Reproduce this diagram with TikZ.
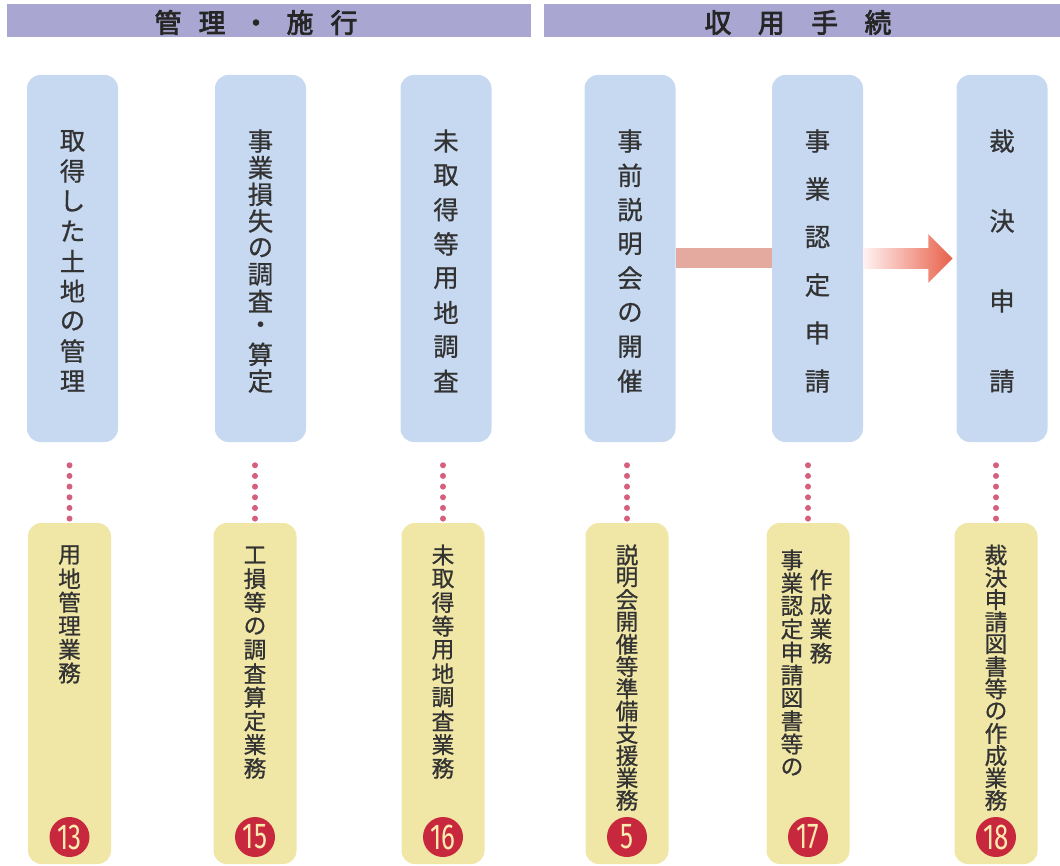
\documentclass[tikz,border=0pt]{standalone}
\usepackage{fontspec}
\newfontfamily\jpfont[FakeBold=0.8]{Noto Sans CJK JP}
\newfontfamily\jpheavy[FakeBold=3]{Noto Sans CJK JP}
\newfontfamily\numfont[FakeStretch=0.72]{Fira Sans}
\usetikzlibrary{shapes.arrows}
\definecolor{barcol}{HTML}{A9A7D1}
\definecolor{bluecol}{HTML}{C7D9F1}
\definecolor{yellowcol}{HTML}{F0E7A6}
\definecolor{numred}{HTML}{C8283E}
\definecolor{numtext}{HTML}{FBEBB0}
\definecolor{dotcol}{HTML}{D5607E}
\definecolor{bandcol}{HTML}{E4AAA0}
\definecolor{textgray}{HTML}{333333}
% one character per line, going down
\newcommand{\vcol}[6]{\foreach \ch [count=\k from 0] in {#6} {\node[#1] (#2\k) at (#3,{#4+\k*#5}) {\ch};}}

\begin{document}
\begin{tikzpicture}[x=0.75pt,y=-0.75pt,
    head_bar/.style={fill=barcol, minimum height=24.75pt, inner sep=0},
    head_text/.style={font=\jpheavy\fontsize{20pt}{20pt}\selectfont, text=black!85, inner sep=0},
    blue_box/.style={fill=bluecol, rounded corners=10pt, minimum width=68.25pt, minimum height=275.25pt, inner sep=0},
    yellow_box/.style={fill=yellowcol, rounded corners=10pt, minimum width=62.25pt, minimum height=255.75pt, inner sep=0},
    blue_text/.style={font=\jpfont\fontsize{19pt}{19pt}\selectfont, text=textgray, inner sep=0},
    yellow_text/.style={font=\jpfont\fontsize{17pt}{17pt}\selectfont, text=textgray, inner sep=0},
    num_dot/.style={circle, fill=numred, text=numtext, minimum size=30pt, inner sep=0, font=\numfont\fontsize{27pt}{27pt}\selectfont},
    dot_line/.style={draw=dotcol, line width=4.5pt, line cap=round, dash pattern=on 0pt off 8pt, shorten <=17.25pt, shorten >=3pt},
    band/.style={draw=bandcol, line width=15pt},
    fat_arrow/.style={single arrow, inner xsep=0, inner ysep=7.5pt, single arrow head extend=10.5pt, minimum height=66.75pt, left color=red!5, right color=red!55!brown!80, anchor=tail}]
    \useasboundingbox (0,0) rectangle (1060,866);

    \node[head_bar, minimum width=393pt] (bar1) at (269,20.5) {};
    \node[head_bar, minimum width=387pt] (bar2) at (802,20.5) {};
    \node[head_text] (bar1t) at (256,22.5) {管\hspace{13pt}理\hspace{13pt}・\hspace{13pt}施\hspace{13pt}行};
    \node[head_text] (bar2t) at (798,22.5) {収\hspace{20pt}用\hspace{20pt}手\hspace{20pt}続};

    \foreach \x/\n in {72.5/1, 260.5/2, 446/3, 630/4, 817.5/5, 1002/6}
        \node[blue_box] (b\n) at (\x,258.5) {};
    \foreach \x/\n/\num in {69.5/1/13, 255/2/15, 443/3/16, 627/4/5, 808/5/17, 996/6/18} {
        \node[yellow_box] (y\n) at (\x,693.5) {};
        \node[num_dot] (n\n) at (\x,837) {\num};
    }
    \foreach \n in {1,...,6}
        \draw[dot_line] (b\n.south -| y\n.north) -- (y\n.north);

    \draw[band] (b4) -- (b5);
    \node[fat_arrow] (arr) at (b5.east) {};

    \vcol{blue_text}{bt1-}{72.5}{141}{30}{取,得,し,た,土,地,の,管,理}
    \vcol{blue_text}{bt2-}{260.5}{141}{26.67}{事,業,損,失,の,調,査,・,算,定}
    \vcol{blue_text}{bt3-}{446}{141}{34.29}{未,取,得,等,用,地,調,査}
    \vcol{blue_text}{bt4-}{630}{141}{34.29}{事,前,説,明,会,の,開,催}
    \vcol{blue_text}{bt5-}{817.5}{141}{48}{事,業,認,定,申,請}
    \vcol{blue_text}{bt6-}{1002}{141}{80}{裁,決,申,請}

    \vcol{yellow_text}{yt1-}{69.5}{555}{23.6}{用,地,管,理,業,務}
    \vcol{yellow_text}{yt2-}{255}{555}{23.7}{工,損,等,の,調,査,算,定,業,務}
    \vcol{yellow_text}{yt3-}{443}{555}{23.7}{未,取,得,等,用,地,調,査,業,務}
    \vcol{yellow_text}{yt4-}{627}{555}{22.3}{説,明,会,開,催,等,準,備,支,援,業,務}
    \vcol{yellow_text}{yt5-}{792}{560}{23}{事,業,認,定,申,請,図,書,等,の}
    \vcol{yellow_text}{ys5-}{821}{580}{24.4}{作,成,業,務}
    \vcol{yellow_text}{yt6-}{996}{555}{22.3}{裁,決,申,請,図,書,等,の,作,成,業,務}
\end{tikzpicture}
\end{document}
